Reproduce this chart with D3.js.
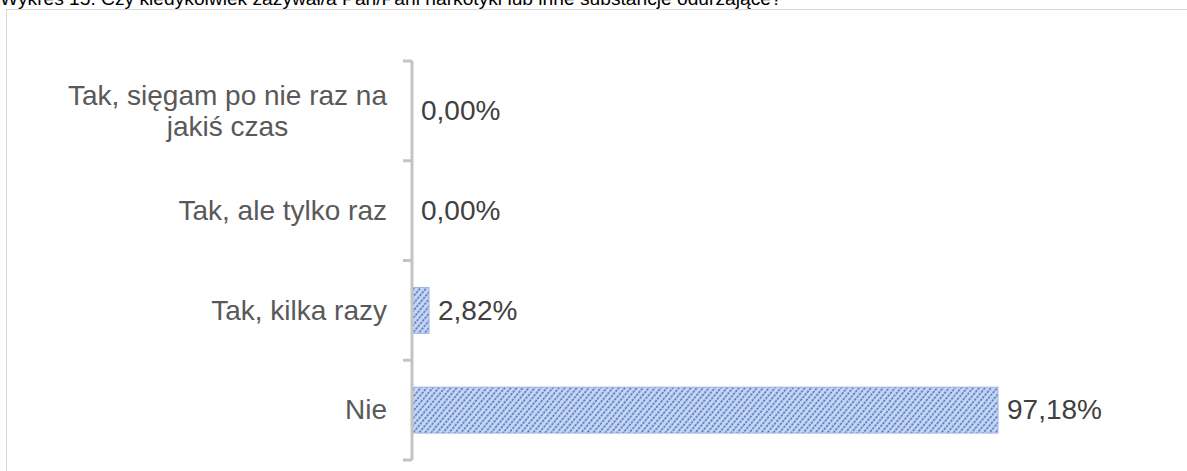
<!DOCTYPE html>
<html>
<head>
<meta charset="utf-8">
<script src="https://cdn.jsdelivr.net/npm/d3@7"></script>
<style>
  body { margin: 0; background: #fff; }
  svg { display: block; font-family: Arial, "Liberation Sans", sans-serif; }
</style>
</head>
<body>
<svg id="chart"></svg>
<script>
// chart data
const title = "Wykres 15. Czy kiedykolwiek zażywał/a Pan/Pani narkotyki lub inne substancje odurzające?";
const categories = ["Tak, sięgam po nie raz na jakiś czas", "Tak, ale tylko raz", "Tak, kilka razy", "Nie"];
const values = [0.00, 0.00, 2.82, 97.18];

const fmt = v => v.toFixed(2).replace(".", ",") + "%";

const width = 1187, height = 471;
const svg = d3.select("#chart")
  .attr("width", width)
  .attr("height", height);

// hatched fill like the original
const pat = svg.append("defs").append("pattern")
  .attr("id", "hatch")
  .attr("patternUnits", "userSpaceOnUse")
  .attr("width", 4.6)
  .attr("height", 3.5)
  .attr("patternTransform", "rotate(40)");
pat.append("rect").attr("width", 4.6).attr("height", 3.5).attr("fill", "#c8d6f1");
pat.append("line")
  .attr("x1", 1.2).attr("x2", 1.2).attr("y1", 0).attr("y2", 3.5)
  .attr("stroke", "#4472c4").attr("stroke-width", 1.5)
  .attr("stroke-dasharray", "2.5,1");

// title (cut off at the top) and chart frame
svg.append("text")
  .attr("x", 0).attr("y", 5)
  .attr("font-size", 19.2)
  .attr("fill", "#000")
  .text(title);

svg.append("rect")
  .attr("x", 6.5).attr("y", 9.5)
  .attr("width", 1300).attr("height", 500)
  .attr("fill", "none")
  .attr("stroke", "#d9d9d9");

// scales
const x = d3.scaleLinear().domain([0, 100]).range([412, 1015]);
const y = d3.scaleBand().domain(categories).range([61, 460])
  .paddingInner(0.54).paddingOuter(0.27);
const off = y.step() * 0.27;

// bars
svg.selectAll(".bar")
  .data(categories)
  .enter().append("rect")
  .attr("class", "bar")
  .attr("x", x(0))
  .attr("y", d => y(d))
  .attr("width", (d, i) => x(values[i]) - x(0))
  .attr("height", y.bandwidth())
  .attr("fill", "url(#hatch)")
  .attr("stroke", (d, i) => values[i] > 0 ? "#9db5e3" : "none")
  .attr("stroke-width", 1);

// axis line with ticks at category boundaries
const axis = svg.append("g").attr("stroke", "#c4c4c4").attr("stroke-width", 3);
axis.append("line")
  .attr("x1", x(0)).attr("x2", x(0))
  .attr("y1", y.range()[0]).attr("y2", y.range()[1]);
const bounds = categories.map(d => y(d) - off).concat([y.range()[1]]);
axis.selectAll(".tick")
  .data(bounds)
  .enter().append("line")
  .attr("x1", x(0) - 9).attr("x2", x(0))
  .attr("y1", d => d).attr("y2", d => d);

// category labels (wrapped, lines centred, block right-aligned)
const fs = 28, lineH = 31, maxW = 340, labelRight = 387;
categories.forEach(cat => {
  const cy = y(cat) + y.bandwidth() / 2;
  const t = svg.append("text")
    .attr("font-size", fs)
    .attr("fill", "#595959")
    .attr("text-anchor", "middle");
  const words = cat.split(" ");
  let lines = [], cur = [];
  const probe = t.append("tspan");
  words.forEach(w => {
    cur.push(w);
    probe.text(cur.join(" "));
    if (probe.node().getComputedTextLength() > maxW && cur.length > 1) {
      cur.pop();
      lines.push(cur.join(" "));
      cur = [w];
    }
  });
  lines.push(cur.join(" "));
  probe.remove();
  const widths = lines.map(l => {
    const s = t.append("tspan").text(l);
    const wd = s.node().getComputedTextLength();
    s.remove();
    return wd;
  });
  const cx = labelRight - d3.max(widths) / 2;
  const first = cy + fs * 0.33 - (lines.length - 1) * lineH / 2;
  lines.forEach((l, i) => {
    t.append("tspan").attr("x", cx).attr("y", first + i * lineH).text(l);
  });
});

// value labels
svg.selectAll(".val")
  .data(categories)
  .enter().append("text")
  .attr("class", "val")
  .attr("x", (d, i) => x(values[i]) + 9)
  .attr("y", d => y(d) + y.bandwidth() / 2)
  .attr("dy", "0.33em")
  .attr("font-size", fs)
  .attr("fill", "#404040")
  .text((d, i) => fmt(values[i]));
</script>
</body>
</html>
